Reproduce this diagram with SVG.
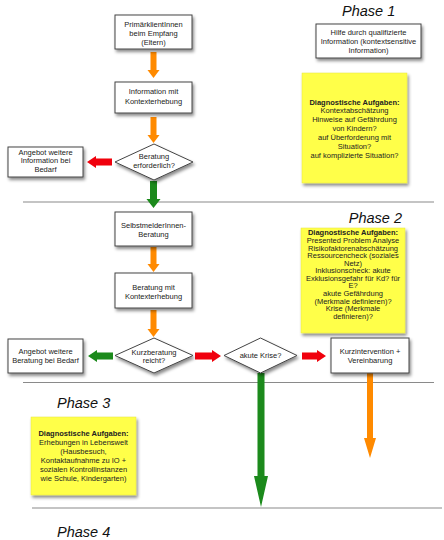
<svg xmlns="http://www.w3.org/2000/svg" width="444" height="540" viewBox="0 0 444 540">
<defs>
<filter id="shadow" x="-20%" y="-20%" width="150%" height="160%">
<feDropShadow dx="1.5" dy="2.5" stdDeviation="1.6" flood-color="#000" flood-opacity="0.45"/>
</filter>
<filter id="soft" x="-30%" y="-10%" width="160%" height="120%">
<feGaussianBlur stdDeviation="0.5"/>
</filter>
<style>
.box{fill:#fff;stroke:#444;stroke-width:1;filter:url(#shadow)}
.note{fill:#ffff48;stroke:#e6e640;stroke-width:0.5;filter:url(#shadow)}
.dia{fill:#fff;stroke:#444;stroke-width:1;filter:url(#shadow)}
.sep{stroke:#8a8a8a;stroke-width:1.2;fill:none}
.t{font-family:"Liberation Sans",Arial,sans-serif;font-size:7.5px;fill:#222;text-anchor:middle}
.b{font-weight:bold}
.ph{font-family:"Liberation Sans",Arial,sans-serif;font-size:14.5px;font-style:italic;fill:#111}
.or{fill:#ff8a00;filter:url(#soft)}
.rd{fill:#f00008;filter:url(#soft)}
.gr{fill:#1a8a1a;filter:url(#soft)}
</style>
</defs>

<g id="separators">
<line class="sep" x1="23" y1="202" x2="434" y2="202"/>
<line class="sep" x1="23" y1="382.5" x2="434" y2="382.5"/>
<line class="sep" x1="32" y1="508" x2="442" y2="508"/>
</g>

<g id="phases">
<text class="ph" x="342" y="16">Phase 1</text>
<text class="ph" x="402" y="223" text-anchor="end">Phase 2</text>
<text class="ph" x="57" y="408">Phase 3</text>
<text class="ph" x="57" y="537">Phase 4</text>
</g>

<g id="connectors">
<polygon class="or" points="150.5,52 156.5,52 156.5,70 159.5,70 153.5,78 147.5,70 150.5,70"/>
<polygon class="or" points="150.5,117 156.5,117 156.5,135 159.5,135 153.5,143 147.5,135 150.5,135"/>
<polygon class="gr" points="150,181 157,181 157,199 160.5,199 153.5,208 146.5,199 150,199"/>
<polygon class="or" points="150.5,247 156.5,247 156.5,264 159.5,264 153.5,272 147.5,264 150.5,264"/>
<polygon class="or" points="150.5,310 156.5,310 156.5,329 159.5,329 153.5,337 147.5,329 150.5,329"/>
<polygon class="rd" points="112,158.5 112,165.5 96,165.5 96,168 87,162 96,156 96,158.5"/>
<polygon class="gr" points="113,352.5 113,359.5 97,359.5 97,362 88,356 97,350 97,352.5"/>
<polygon class="rd" points="195,352.5 195,359.5 212,359.5 212,362 221,356 212,350 212,352.5"/>
<polygon class="rd" points="302,352.5 302,359.5 317,359.5 317,362 326,356 317,350 317,352.5"/>
<polygon class="gr" points="257.5,373 264.5,373 264.5,476 268,476 261,507 254,476 257.5,476"/>
<polygon class="or" points="367,373 373,373 373,438 376,438 370,458 364,438 367,438"/>
</g>

<g id="n-primaer">
<rect class="box" x="115" y="15" width="77" height="34"/>
<text class="t"><tspan x="153.5" y="26.5">PrimärklientInnen</tspan><tspan x="153.5" y="35.5">beim Empfang</tspan><tspan x="153.5" y="44.5">(Eltern)</tspan></text>
</g>

<g id="n-hilfe">
<rect class="box" x="316" y="24" width="105" height="34"/>
<text class="t"><tspan x="368.5" y="35">Hilfe durch qualifizierte</tspan><tspan x="368.5" y="44">Information (kontextsensitive</tspan><tspan x="368.5" y="53">Information)</tspan></text>
</g>

<g id="n-diag1">
<rect class="note" x="302" y="73" width="105" height="110"/>
<text class="t"><tspan class="b" x="354.5" y="104.5">Diagnostische Aufgaben:</tspan><tspan x="354.5" y="113.4">Kontextabschätzung</tspan><tspan x="354.5" y="122.3">Hinweise auf Gefährdung</tspan><tspan x="354.5" y="131.2">von Kindern?</tspan><tspan x="354.5" y="140.1">auf Überforderung mit</tspan><tspan x="354.5" y="149">Situation?</tspan><tspan x="354.5" y="157.9">auf komplizierte Situation?</tspan></text>
</g>

<g id="n-info">
<rect class="box" x="115" y="82" width="77" height="31"/>
<text class="t"><tspan x="153.5" y="94.3">Information mit</tspan><tspan x="153.5" y="103.8">Kontexterhebung</tspan></text>
</g>

<g id="n-beratung-erf">
<polygon class="dia" points="115,162 154,144 193,162 154,180"/>
<text class="t"><tspan x="154" y="158.5">Beratung</tspan><tspan x="154" y="167.5">erforderlich?</tspan></text>
</g>

<g id="n-angebot-info">
<rect class="box" x="8" y="147" width="75" height="30"/>
<text class="t"><tspan x="45.5" y="154.5">Angebot weitere</tspan><tspan x="45.5" y="163">Information bei</tspan><tspan x="45.5" y="171.5">Bedarf</tspan></text>
</g>

<g id="n-selbst">
<rect class="box" x="115" y="212" width="77" height="34"/>
<text class="t"><tspan x="153.5" y="228">SelbstmelderInnen-</tspan><tspan x="153.5" y="236.5">Beratung</tspan></text>
</g>

<g id="n-diag2">
<rect class="note" x="301" y="228" width="104" height="105"/>
<text class="t"><tspan class="b" x="353" y="235.4">Diagnostische Aufgaben:</tspan><tspan x="353" y="243">Presented Problem Analyse</tspan><tspan x="353" y="250.6">Risikofaktorenabschätzung</tspan><tspan x="353" y="258.1">Ressourcencheck (soziales</tspan><tspan x="353" y="265.7">Netz)</tspan><tspan x="353" y="273.3">Inklusionscheck: akute</tspan><tspan x="353" y="280.8">Exklusionsgefahr für Kd? für</tspan><tspan x="353" y="288.4">E?</tspan><tspan x="353" y="296">akute Gefährdung</tspan><tspan x="353" y="303.5">(Merkmale definieren)?</tspan><tspan x="353" y="311.1">Krise (Merkmale</tspan><tspan x="353" y="318.7">definieren)?</tspan></text>
</g>

<g id="n-beratung-mit">
<rect class="box" x="115" y="273" width="77" height="35"/>
<text class="t"><tspan x="153.5" y="289.5">Beratung mit</tspan><tspan x="153.5" y="298.5">Kontexterhebung</tspan></text>
</g>

<g id="n-kurzberatung">
<polygon class="dia" points="115,355.5 154,338 193,355.5 154,373"/>
<text class="t"><tspan x="154" y="354.5">Kurzberatung</tspan><tspan x="154" y="362.5">reicht?</tspan></text>
</g>

<g id="n-angebot-beratung">
<rect class="box" x="8" y="339" width="75" height="34"/>
<text class="t"><tspan x="45.5" y="354.4">Angebot weitere</tspan><tspan x="45.5" y="362.7">Beratung bei Bedarf</tspan></text>
</g>

<g id="n-krise">
<polygon class="dia" points="224,355.5 260.5,338 297,355.5 260.5,373"/>
<text class="t" x="260.5" y="358.4">akute Krise?</text>
</g>

<g id="n-kurzintervention">
<rect class="box" x="331" y="338" width="78" height="35"/>
<text class="t"><tspan x="370" y="354.4">Kurzintervention +</tspan><tspan x="370" y="362.7">Vereinbarung</tspan></text>
</g>

<g id="n-diag3">
<rect class="note" x="31" y="417" width="105" height="78"/>
<text class="t"><tspan class="b" x="83.5" y="436">Diagnostische Aufgaben:</tspan><tspan x="83.5" y="445">Erhebungen in Lebenswelt</tspan><tspan x="83.5" y="454">(Hausbesuch,</tspan><tspan x="83.5" y="463">Kontaktaufnahme zu IO +</tspan><tspan x="83.5" y="472">sozialen Kontrollinstanzen</tspan><tspan x="83.5" y="481">wie Schule, Kindergarten)</tspan></text>
</g>
</svg>
